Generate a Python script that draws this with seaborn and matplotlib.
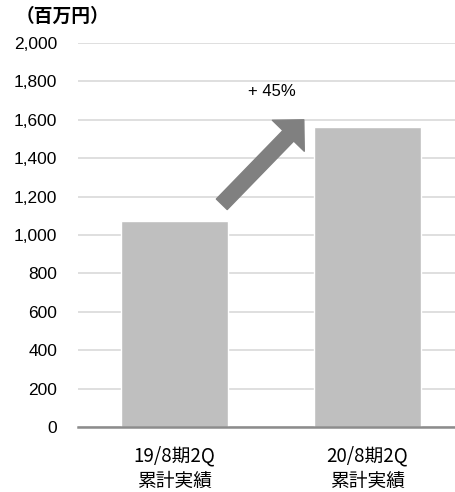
import matplotlib
matplotlib.use("Agg")
import matplotlib.pyplot as plt
import seaborn as sns
import pandas as pd
from matplotlib.ticker import FuncFormatter, FixedLocator

# Cumulative results (million yen)
periods = ["19/8期2Q\n累計実績", "20/8期2Q\n累計実績"]
sales = [1075, 1562]
growth_label = "+ 45%"
y_ticks = [0, 200, 400, 600, 800, 1000, 1200, 1400, 1600, 1800, 2000]

sns.set_theme(style="white")
plt.rcParams["font.family"] = ["Liberation Sans", "Noto Sans CJK JP", "DejaVu Sans"]

df = pd.DataFrame({"period": periods, "sales": sales})

fig = plt.figure(figsize=(4.55, 4.92), dpi=100)
ax = fig.add_axes([78 / 455, 65 / 492, (464 - 78) / 455, (427 - 43) / 492])

sns.barplot(data=df, x="period", y="sales", color="#bfbfbf", width=0.555,
            saturation=1, ax=ax, zorder=2)

ax.set_xlim(-0.5, 1.5)
ax.set_ylim(0, 2000)
ax.set_yticks(y_ticks)
ax.yaxis.set_major_formatter(FuncFormatter(lambda v, p: f"{int(v):,}"))
ax.grid(axis="y", color="#d9d9d9", linewidth=1.2, zorder=0)
ax.set_axisbelow(True)

for s in ["top", "right", "left"]:
    ax.spines[s].set_visible(False)
ax.spines["bottom"].set_color("#8c8c8c")
ax.spines["bottom"].set_linewidth(1.8)
ax.spines["bottom"].set_zorder(3)

ax.set_xlabel("")
ax.set_ylabel("")
ax.tick_params(axis="y", length=0, pad=15, labelsize=12.5, labelcolor="#000000")
ax.tick_params(axis="x", which="major", length=0, pad=13)
ax.xaxis.set_minor_locator(FixedLocator([-0.5, 0.5, 1.5]))
ax.tick_params(axis="x", which="minor", length=5, width=1.5, color="#8c8c8c",
               direction="out")
for lbl in ax.get_xticklabels():
    lbl.set_fontfamily(["Noto Sans CJK JP"])
    lbl.set_fontsize(13.5)
    lbl.set_linespacing(1.3)
    lbl.set_color("#000000")

# Growth arrow between the two bars
ax.annotate("", xy=(0.67, 1600), xytext=(0.245, 1160),
            arrowprops=dict(arrowstyle="simple,head_length=1.0,head_width=2.0,tail_width=0.68",
                            color="#808080", mutation_scale=16, shrinkA=0, shrinkB=0),
            zorder=4)
ax.text(0.505, 1745, growth_label, ha="center", va="center", fontsize=12,
        color="#000000")

fig.text(16 / 455, 1 - 16 / 492, "（百万円）", ha="left", va="center",
         fontsize=13.5, fontweight="bold", family=["Noto Sans CJK JP"],
         color="#000000")

fig.savefig("out.png", dpi=100)
